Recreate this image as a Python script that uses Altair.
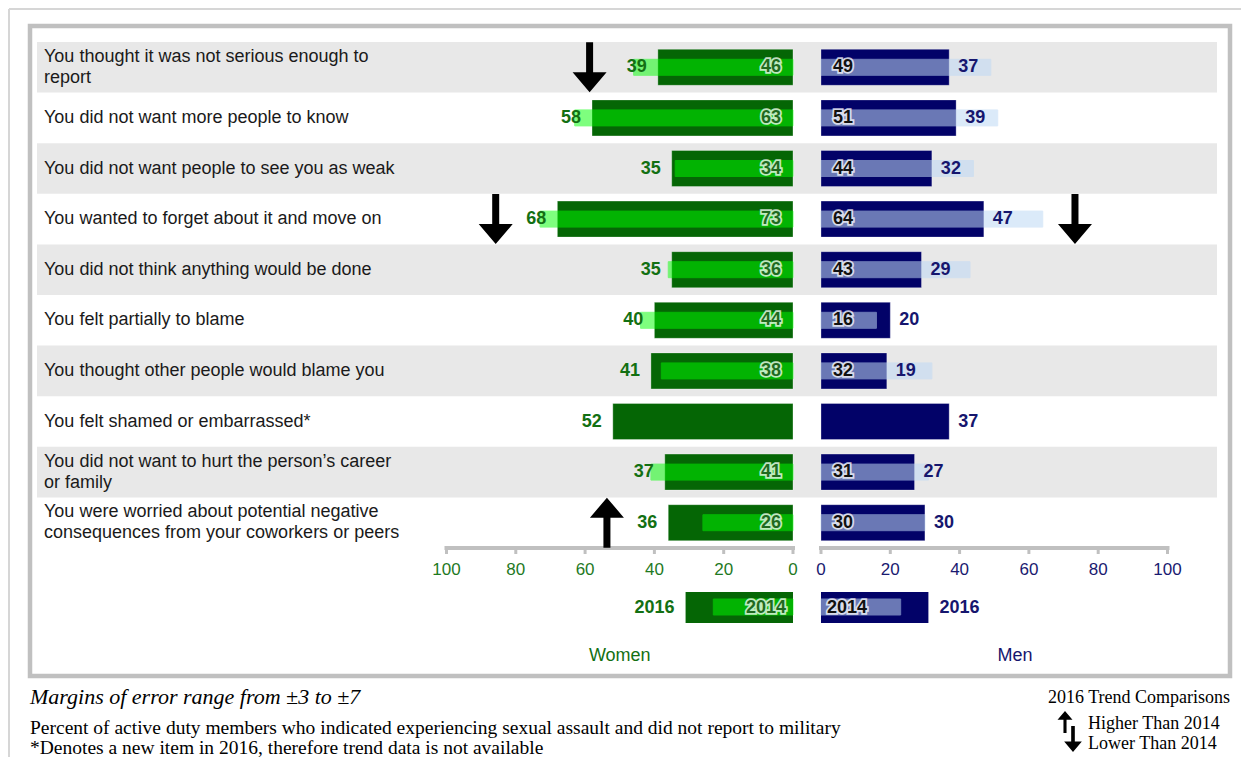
import altair as alt
import pandas as pd

# ---------------- data ----------------
items = [
    "You thought it was not serious enough to\nreport",
    "You did not want more people to know",
    "You did not want people to see you as weak",
    "You wanted to forget about it and move on",
    "You did not think anything would be done",
    "You felt partially to blame",
    "You thought other people would blame you",
    "You felt shamed or embarrassed*",
    "You did not want to hurt the person\u2019s career\nor family",
    "You were worried about potential negative\nconsequences from your coworkers or peers",
]
women_2016 = [39, 58, 35, 68, 35, 40, 41, 52, 37, 36]
women_2014 = [46, 63, 34, 73, 36, 44, 38, None, 41, 26]
men_2016 = [37, 39, 32, 47, 29, 20, 19, 37, 27, 30]
men_2014 = [49, 51, 44, 64, 43, 16, 32, None, 31, 30]

# trend arrows (row index, gender, direction, position on the value axis)
arrow_rows = [0, 3, 3, 9]
arrow_gender = ["Women", "Women", "Men", "Women"]
arrow_dir = ["down", "down", "down", "up"]
arrow_pos = [58.7, 85.8, 73.3, 53.7]

tick_values = [0, 20, 40, 60, 80, 100]
legend_2016 = 31
legend_2014 = 23
panel_titles = ["Women", "Men"]
panel_title_pos = [50, 56]

footer_lines = [
    "Percent of active duty members who indicated experiencing sexual assault and did not report to military",
    "*Denotes a new item in 2016, therefore trend data is not available",
]
moe_text = "Margins of error range from \u00b13 to \u00b17"
trend_title = "2016 Trend Comparisons"
trend_labels = ["Higher Than 2014", "Lower Than 2014"]

# ---------------- style ----------------
SANS = "Liberation Sans, Arial, sans-serif"
SERIF = "Liberation Serif, Times New Roman, serif"
G = 4.04  # half gap between the two panels, in value units
STRIPE = "#e8e8e8"
FRAME = "#c0c0c0"
STYLE = {
    "Women": dict(s=-1, dark="#056605", light="#00ff00", light_op=0.5,
                  text="#137013", tick="#1f7a1f", lab14="#1f6a1f"),
    "Men": dict(s=1, dark="#020268", light="#bfd9f5", light_op=0.55,
                text="#16166e", tick="#1a1a70", lab14="#111111"),
}
DOWN = "M-0.14,-1L0.14,-1L0.14,0.2L0.68,0.2L0,1L-0.68,0.2L-0.14,0.2Z"
UP = "M-0.14,1L0.14,1L0.14,-0.2L0.68,-0.2L0,-1L-0.68,-0.2L-0.14,-0.2Z"

XS = alt.Scale(domain=[-224.24, 122.08], nice=False, zero=False)
YS = alt.Scale(domain=list(range(10)), range=[16, 522], paddingInner=0, paddingOuter=0)


def X(f):
    return alt.X(f"{f}:Q", scale=XS, axis=None)


Y = alt.Y("row:O", scale=YS, axis=None)

# ---------------- tables ----------------
rows_df = pd.DataFrame({"row": list(range(10)), "label": items})
vals = {"Women": (women_2016, women_2014), "Men": (men_2016, men_2014)}

layers = []

# outer thin page border
border_df = pd.DataFrame({"k": [0]})
layers.append(alt.Chart(border_df).mark_rule(color="#d6d6d6", strokeWidth=2).encode(
    x=alt.value(-21), x2=alt.value(1215), y=alt.value(-17)))
layers.append(alt.Chart(border_df).mark_rule(color="#d6d6d6", strokeWidth=2).encode(
    x=alt.value(-21), y=alt.value(-17), y2=alt.value(735)))

# row stripes
layers.append(alt.Chart(rows_df).transform_filter("datum.row % 2 == 0").mark_rect(color=STRIPE).encode(
    y=Y, x=alt.value(7), x2=alt.value(1187)))

# row labels (single-line and two-line)
lab = alt.Chart(rows_df).transform_calculate(two="indexof(datum.label, '\\n') >= 0")
for two, dy in ((False, 0), (True, -10.5)):
    layers.append(lab.transform_filter(f"datum.two == {str(two).lower()}").mark_text(
        align="left", baseline="middle", font=SANS, fontSize=18, lineBreak="\n", lineHeight=21,
        dy=dy, color="#1a1a1a").encode(y=Y, x=alt.value(14), text="label:N"))

for g in ["Women", "Men"]:
    st = STYLE[g]
    s = st["s"]
    v16, v14 = vals[g]
    df = pd.DataFrame({"row": list(range(10)), "v16": v16, "v14": v14})
    base = alt.Chart(df).transform_calculate(
        p16=f"{s} * (datum.v16 + {G})",
        p14=f"{s} * (datum.v14 + {G})",
        p0=f"{s} * {G}",
    )
    # 2016 bars
    layers.append(base.mark_bar(size=36, color=st["dark"], stroke="#ffffff", strokeOpacity=0.3,
                                strokeWidth=1).encode(y=Y, x=X("p16"), x2="p0"))
    # 2014 bars
    b14 = base.transform_filter("isValid(datum.v14)")
    layers.append(b14.mark_bar(size=16, color=st["light"], opacity=st["light_op"],
                               stroke=st["light"], strokeWidth=1).encode(y=Y, x=X("p14"), x2="p0"))
    # 2016 labels
    layers.append(base.mark_text(
        align="right" if s < 0 else "left", dx=-11 if s < 0 else 9, baseline="middle",
        font=SANS, fontSize=18, fontWeight="bold", color=st["text"]).encode(
        y=Y, x=X("p16"), text="v16:Q"))
    # 2014 labels with halo
    for halo in (True, False):
        kw = dict(align="right" if s < 0 else "left", dx=-12 if s < 0 else 12, baseline="middle",
                  font=SANS, fontSize=18, fontWeight="bold")
        if halo:
            kw.update(color="#ffffff", stroke="#ffffff", strokeWidth=3.5, opacity=0.75)
        else:
            kw.update(color=st["lab14"])
        layers.append(b14.mark_text(**kw).encode(y=Y, x=X("p0"), text="v14:Q"))

    # axis
    ax_df = pd.DataFrame({"lo": [0], "hi": [100]})
    layers.append(alt.Chart(ax_df).transform_calculate(
        plo=f"{s} * (datum.lo + {G})", phi=f"{s} * (datum.hi + {G})").mark_rule(
        color=FRAME, strokeWidth=4, strokeCap="square").encode(x=X("plo"), x2="phi", y=alt.value(522)))
    tk_df = pd.DataFrame({"t": tick_values})
    tk = alt.Chart(tk_df).transform_calculate(pt=f"{s} * (datum.t + {G})")
    layers.append(tk.mark_rule(color=FRAME, strokeWidth=3).encode(
        x=X("pt"), y=alt.value(522), y2=alt.value(528)))
    layers.append(tk.mark_text(font=SANS, fontSize=17, color=st["tick"], baseline="middle").encode(
        x=X("pt"), y=alt.value(544), text="t:Q"))

    # legend boxes
    lg_df = pd.DataFrame({"v16": [legend_2016], "v14": [legend_2014], "y16": ["2016"], "y14": ["2014"]})
    lg = alt.Chart(lg_df).transform_calculate(
        p16=f"{s} * (datum.v16 + {G})", p14=f"{s} * (datum.v14 + {G})", p0=f"{s} * {G}")
    layers.append(lg.mark_rect(color=st["dark"]).encode(
        x=X("p16"), x2="p0", y=alt.value(566), y2=alt.value(597)))
    layers.append(lg.mark_rect(color=st["light"], opacity=st["light_op"], stroke=st["light"], strokeWidth=1).encode(
        x=X("p14"), x2="p0", y=alt.value(573), y2=alt.value(589)))
    layers.append(lg.mark_text(align="right" if s < 0 else "left", dx=-11 if s < 0 else 11,
                               baseline="middle", font=SANS, fontSize=18, fontWeight="bold",
                               color=st["text"]).encode(x=X("p16"), y=alt.value(582), text="y16:N"))
    for halo in (True, False):
        kw = dict(align="right" if s < 0 else "left", dx=-7 if s < 0 else 6, baseline="middle",
                  font=SANS, fontSize=18, fontWeight="bold")
        if halo:
            kw.update(color="#ffffff", stroke="#ffffff", strokeWidth=3.5, opacity=0.75)
        else:
            kw.update(color=st["lab14"])
        layers.append(lg.mark_text(**kw).encode(x=X("p0"), y=alt.value(582), text="y14:N"))

    # panel title
    i = panel_titles.index(g)
    pt_df = pd.DataFrame({"name": [g], "v": [panel_title_pos[i]]})
    layers.append(alt.Chart(pt_df).transform_calculate(pv=f"{s} * (datum.v + {G})").mark_text(
        font=SANS, fontSize=18, color=st["text"], baseline="middle").encode(
        x=X("pv"), y=alt.value(630), text="name:N"))

# trend arrows
ar_df = pd.DataFrame({"row": arrow_rows, "gender": arrow_gender, "dir": arrow_dir, "v": arrow_pos})
ar = alt.Chart(ar_df).transform_calculate(
    pa=f"(datum.gender == 'Women' ? -1 : 1) * (datum.v + {G})")
for d, path in (("down", DOWN), ("up", UP)):
    layers.append(ar.transform_filter(f"datum.dir == '{d}'").mark_point(
        shape=path, size=2500, filled=True, color="#000000", opacity=1, strokeWidth=0).encode(
        x=X("pa"), y=Y))

# footer text
one = pd.DataFrame({"k": [0]})
layers.append(alt.Chart(one).mark_text(
    align="left", baseline="middle", font=SERIF, fontSize=22, fontStyle="italic", color="#000000",
    text=moe_text).encode(x=alt.value(0), y=alt.value(671)))
for j, line in enumerate(footer_lines):
    layers.append(alt.Chart(one).mark_text(
        align="left", baseline="middle", font=SERIF, fontSize=19.5, color="#000000",
        text=line).encode(x=alt.value(0), y=alt.value(702 + 20 * j)))
layers.append(alt.Chart(one).mark_text(
    align="left", baseline="middle", font=SERIF, fontSize=18, color="#000000",
    text=trend_title).encode(x=alt.value(1018), y=alt.value(672)))
for j, line in enumerate(trend_labels):
    layers.append(alt.Chart(one).mark_text(
        align="left", baseline="middle", font=SERIF, fontSize=18, color="#000000",
        text=line).encode(x=alt.value(1058), y=alt.value(698 + 20 * j)))
layers.append(alt.Chart(one).mark_point(shape=UP, size=484, filled=True, color="#000000", opacity=1,
                                        strokeWidth=0).encode(x=alt.value(1035), y=alt.value(696)))
layers.append(alt.Chart(one).mark_point(shape=DOWN, size=676, filled=True, color="#000000", opacity=1,
                                        strokeWidth=0).encode(x=alt.value(1043), y=alt.value(713)))

chart = alt.layer(*layers).properties(
    width=1200, height=650,
    autosize=alt.AutoSizeParams(type="none"),
    padding={"left": 22, "top": 18, "right": 11, "bottom": 81},
).configure_view(stroke=FRAME, strokeWidth=4.5)

chart.save("out.html", embed_options={"renderer": "svg", "actions": False})
